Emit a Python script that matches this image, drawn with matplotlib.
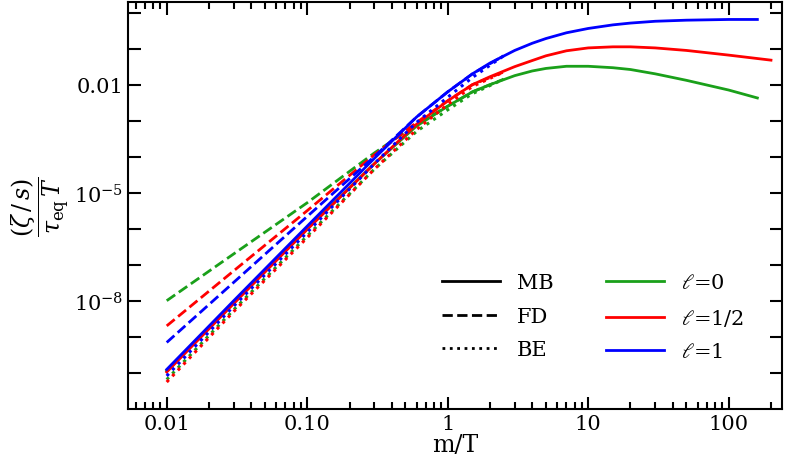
import matplotlib
matplotlib.use('Agg')
import matplotlib.pyplot as plt
import matplotlib as mpl
import numpy as np
from matplotlib.lines import Line2D
from matplotlib.ticker import FixedLocator, LogLocator, NullFormatter

# x grid (m/T) and log10 of (zeta/s)/(tau_eq T)
x_mb = [0.01, 0.03, 0.1, 0.3, 0.6, 1, 1.5, 2, 3, 4, 5, 7, 10, 15, 20, 30, 50, 100, 160]
x_mb_red = [0.01, 0.03, 0.1, 0.3, 0.6, 1, 1.5, 2, 3, 4, 5, 7, 10, 15, 20, 30, 50, 100, 200]
x_q = [0.01, 0.03, 0.1, 0.3, 0.6, 1, 1.5, 2.5]

mb_l0 = [-9.95, -8.05, -6.0, -4.2, -3.15, -2.6, -2.2, -2.0, -1.75, -1.62, -1.55, -1.49, -1.49, -1.53, -1.58, -1.7, -1.88, -2.15, -2.37]
mb_l12 = [-9.98, -8.08, -6.02, -4.2, -3.1, -2.45, -2.0, -1.78, -1.5, -1.33, -1.2, -1.06, -0.98, -0.95, -0.95, -0.98, -1.05, -1.18, -1.32]
mb_l1 = [-9.91, -8.0, -5.93, -4.05, -2.9, -2.2, -1.7, -1.4, -1.05, -0.85, -0.72, -0.56, -0.44, -0.34, -0.29, -0.24, -0.21, -0.19, -0.19]

fd_l0 = [-8.0, -6.7, -5.28, -3.9, -3.1, -2.6, -2.2, -1.85]
fd_l12 = [-8.7, -7.17, -5.5, -3.95, -3.05, -2.45, -2.0, -1.65]
fd_l1 = [-9.16, -7.49, -5.66, -4.0, -2.9, -2.2, -1.7, -1.2]

be_l0 = [-10.19, -8.25, -6.2, -4.35, -3.3, -2.7, -2.25, -1.85]
be_l12 = [-10.26, -8.3, -6.25, -4.35, -3.25, -2.55, -2.05, -1.65]
be_l1 = [-10.09, -8.15, -6.1, -4.2, -3.05, -2.35, -1.8, -1.2]

colors = {'0': '#1aa01a', '1/2': '#ff0000', '1': '#0000ff'}

mpl.rc('font', family='DejaVu Serif', size=15)
mpl.rcParams['mathtext.fontset'] = 'dejavuserif'
mpl.rc('axes', linewidth=1.5)

fig = plt.figure(figsize=(7.9, 4.64), dpi=100)
ax = fig.add_axes([0.162, 0.117, 0.828, 0.877])

for (xm, mb, fd, be, key) in [(x_mb, mb_l0, fd_l0, be_l0, '0'),
                              (x_mb_red, mb_l12, fd_l12, be_l12, '1/2'),
                              (x_mb, mb_l1, fd_l1, be_l1, '1')]:
    c = colors[key]
    ax.plot(x_q, 10**np.array(fd), color=c, ls='--', lw=2)
    ax.plot(x_q, 10**np.array(be), color=c, ls=':', lw=2.2)
    ax.plot(xm, 10**np.array(mb), color=c, ls='-', lw=2, solid_joinstyle='round')

ax.set_xscale('log')
ax.set_yscale('log')
ax.set_xlim(0.0053, 240)
ax.set_ylim(1e-11, 2)
ax.set_xticks([0.01, 0.1, 1, 10, 100])
ax.set_xticklabels(['0.01', '0.10', '1', '10', '100'])
ax.xaxis.set_minor_locator(LogLocator(base=10, subs=np.arange(2, 10)))
ax.xaxis.set_minor_formatter(NullFormatter())
ax.yaxis.set_major_locator(FixedLocator([1e-2, 1e-5, 1e-8]))
ax.set_yticklabels(['0.01', r'$10^{-5}$', r'$10^{-8}$'])
ax.yaxis.set_minor_locator(FixedLocator([10.0**k for k in range(-10, 1)]))
ax.yaxis.set_minor_formatter(NullFormatter())
ax.tick_params(which='both', direction='in', top=True, right=True, width=1.5)
ax.tick_params(which='major', length=9)
ax.tick_params(axis='x', which='minor', length=5)
ax.tick_params(axis='y', which='minor', length=9)

ax.set_xlabel('m/T', fontsize=17, labelpad=0)
ax.set_ylabel(r'$\dfrac{(\zeta\,/\,s)}{\tau_{\rm eq}\,T}$', fontsize=17, labelpad=2)

handles = [Line2D([], [], color='k', ls='-', lw=2),
           Line2D([], [], color='k', ls='--', lw=2),
           Line2D([], [], color='k', ls=':', lw=2),
           Line2D([], [], color=colors['0'], lw=2),
           Line2D([], [], color=colors['1/2'], lw=2),
           Line2D([], [], color=colors['1'], lw=2)]
labels = ['MB', 'FD', 'BE', r'$\ell$=0', r'$\ell$=1/2', r'$\ell$=1']
ax.legend(handles, labels, ncol=2, frameon=False, loc='lower right',
          bbox_to_anchor=(0.97, 0.07), fontsize=15, handlelength=2.8,
          columnspacing=2.5, labelspacing=0.7)

fig.savefig('out.png', dpi=100)
